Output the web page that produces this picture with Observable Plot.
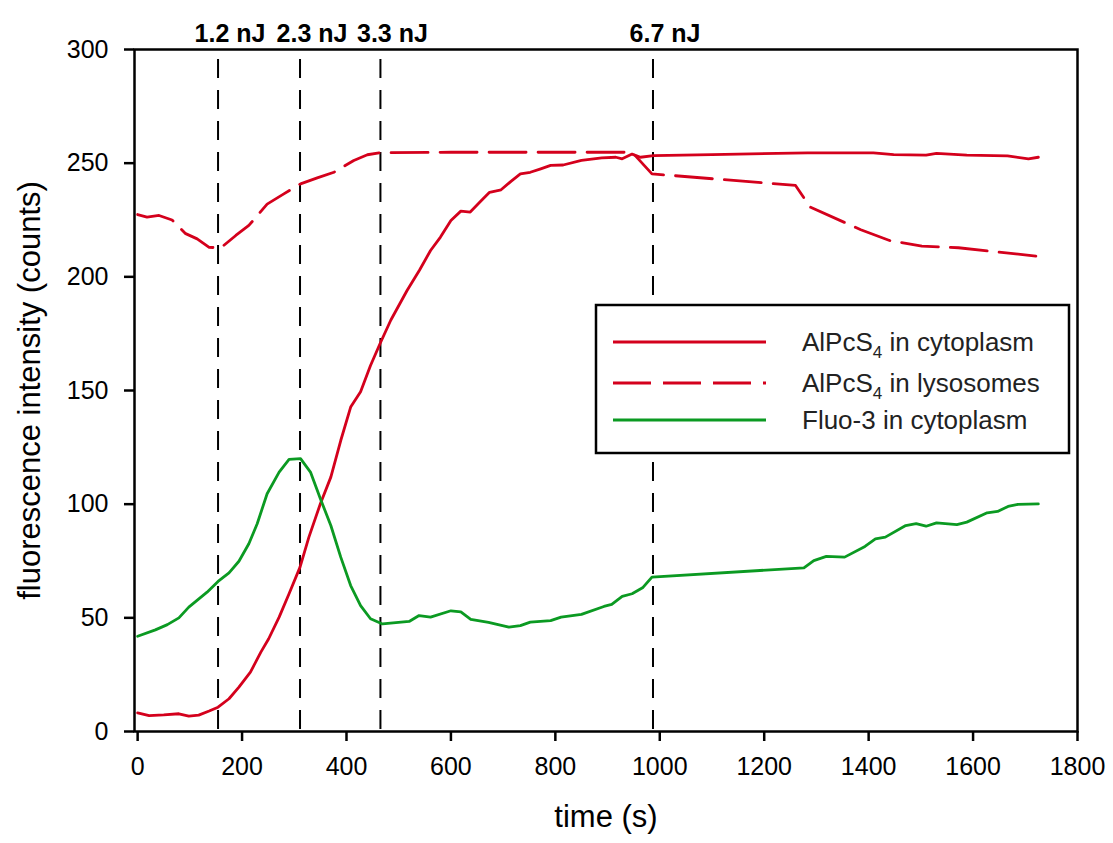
<!DOCTYPE html>
<html>
<head>
<meta charset="utf-8">
<script src="https://cdn.jsdelivr.net/npm/d3@7"></script>
<script src="https://cdn.jsdelivr.net/npm/@observablehq/plot@0.6"></script>
<style>
  body { margin: 0; background: #fff; }
  #wrap { position: relative; width: 1113px; height: 843px; font-family: "Liberation Sans", Arial, sans-serif; }
  #legend { position: absolute; left: 0; top: 0; pointer-events: none; }
</style>
</head>
<body>
<div id="wrap"></div>
<script>
// ---- data ----
const cytoT = [0,22,50,79,98,117,137,154,175,194,216,236,251,271,290,311,328,350,370,389,408,427,446,465,485,516,540,561,580,600,619,637,656,674,696,715,733,752,772,791,815,850,889,916,928,947,963,988,1100,1283,1409,1448,1510,1530,1588,1666,1706,1725];
const cytoV = [8.2,7.0,7.3,7.8,6.8,7.2,9.0,10.7,14.4,19.5,26.1,34.9,40.8,50.3,60.6,72.3,85.5,100.2,111.9,128,142.7,149.5,161,171,181,194,203,211.6,217.5,224.8,228.9,228.5,233,237.2,238.3,242,245.3,246,247.5,249,249.2,251.2,252.3,252.6,251.9,254,252.6,253.3,253.8,254.5,254.5,253.8,253.5,254.3,253.5,253.2,251.9,252.6];

const lysoT = [0,18,41,66,92,114,137,159,188,213,248,280,312,344,376,414,440,465,600,800,947,985,1260,1288,1385,1440,1502,1572,1725];
const lysoV = [227.4,226.3,227,225,219,216.7,213,212.7,218.2,222.6,232,236.5,240.9,243.5,246,251.2,253.7,254.6,254.8,254.8,254.8,245.3,240.2,230.7,220.7,216,213.5,212.8,209];

const fluoT = [0,34,57,79,98,133,154,175,194,213,229,248,271,290,312,331,350,370,389,408,427,446,469,520,539,561,600,619,638,672,711,733,752,791,811,850,893,908,928,947,967,985,1276,1295,1319,1354,1393,1413,1432,1471,1491,1510,1530,1569,1588,1627,1647,1667,1686,1725];
const fluoV = [41.9,44.7,47,50,54.7,61.3,66,69.8,74.9,82.6,91.4,104.6,114.1,119.7,120,114.1,102.4,90.6,76.7,64.2,55.4,49.6,47.3,48.4,51,50.3,53.1,52.6,49.3,48,45.9,46.6,48.1,48.8,50.3,51.5,55,55.9,59.4,60.6,63.2,67.9,72,75.2,77,76.7,81.4,84.7,85.5,90.6,91.4,90.3,91.8,91,92.1,96.2,96.8,99,99.9,100.1];

const pulseTimes = [154, 311, 465, 987];
const pulseLabels = ["1.2 nJ", "2.3 nJ", "3.3 nJ", "6.7 nJ"];

const xTicks = [0,200,400,600,800,1000,1200,1400,1600,1800];
const yTicks = [0,50,100,150,200,250,300];

const seriesNames = ["AlPcS4 in cytoplasm", "AlPcS4 in lysosomes", "Fluo-3 in cytoplasm"];

// ---- styles ----
const RED = "#d4001c";
const GREEN = "#0b9a22";
const FONT = "Liberation Sans, Arial, sans-serif";

const toRows = (T, V) => T.map((t, i) => ({t, v: V[i]}));
const cyto = toRows(cytoT, cytoV);
const lyso = toRows(lysoT, lysoV);
const fluo = toRows(fluoT, fluoV);
const pulses = pulseTimes.map((t, i) => ({t, label: pulseLabels[i]}));

const chart = Plot.plot({
  width: 1113,
  height: 843,
  marginLeft: 134,
  marginRight: 36,
  marginTop: 49,
  marginBottom: 112,
  style: {fontFamily: FONT, fontSize: "24px", color: "#000", background: "#fff"},
  x: {domain: [-6, 1800]},
  y: {domain: [0, 300]},
  marks: [
    Plot.ruleX(pulses, {x: "t", stroke: "#000", strokeWidth: 2, strokeDasharray: "19,12", strokeDashoffset: -10}),
    Plot.line(lyso, {x: "t", y: "v", stroke: RED, strokeWidth: 2.8, strokeDasharray: "37,12"}),
    Plot.line(cyto, {x: "t", y: "v", stroke: RED, strokeWidth: 2.8}),
    Plot.line(fluo, {x: "t", y: "v", stroke: GREEN, strokeWidth: 2.8}),
    Plot.frame({stroke: "#000", strokeWidth: 2.5}),
    Plot.axisX({ticks: xTicks, tickFormat: d => String(d), tickSize: 10, tickPadding: 16, strokeWidth: 2.5, fontSize: 25, label: null}),
    Plot.axisY({ticks: yTicks, tickFormat: d => String(d), tickSize: 10, tickPadding: 16, strokeWidth: 2.5, fontSize: 25, label: null}),
    Plot.text(pulses, {x: "t", text: "label", frameAnchor: "top", dy: -25, dx: 12, fontWeight: "bold", fontSize: 25}),
    Plot.text(["time (s)"], {frameAnchor: "bottom", dy: 95, fontSize: 31}),
    Plot.text(["fluorescence intensity (counts)"], {frameAnchor: "left", textAnchor: "middle", dx: -104, rotate: -90, fontSize: 31})
  ]
});

const wrap = document.getElementById("wrap");
wrap.appendChild(chart);

// ---- legend overlay (inside plot area) ----
const ns = "http://www.w3.org/2000/svg";
const leg = d3.select(wrap).append("svg")
  .attr("id", "legend")
  .attr("width", 1113).attr("height", 843)
  .attr("xmlns", ns);

leg.append("rect")
  .attr("x", 596).attr("y", 305).attr("width", 473).attr("height", 148)
  .attr("fill", "#fff").attr("stroke", "#000").attr("stroke-width", 2.5);

const legItems = [
  {y: 342, color: RED, dash: null, name: seriesNames[0]},
  {y: 383, color: RED, dash: "38,12", name: seriesNames[1]},
  {y: 420, color: GREEN, dash: null, name: seriesNames[2]}
];
legItems.forEach(it => {
  leg.append("line")
    .attr("x1", 613).attr("x2", 766).attr("y1", it.y).attr("y2", it.y)
    .attr("stroke", it.color).attr("stroke-width", 2.8)
    .attr("stroke-dasharray", it.dash);
  const txt = leg.append("text")
    .attr("x", 802).attr("y", it.y + 9)
    .attr("font-family", FONT).attr("font-size", 26).attr("fill", "#222");
  const m = it.name.match(/^(AlPcS)4(.*)$/);
  if (m) {
    txt.append("tspan").text(m[1]);
    txt.append("tspan").attr("font-size", 17).attr("dy", 7).text("4");
    txt.append("tspan").attr("dy", -7).text(m[2]);
  } else {
    txt.text(it.name);
  }
});
</script>
</body>
</html>
